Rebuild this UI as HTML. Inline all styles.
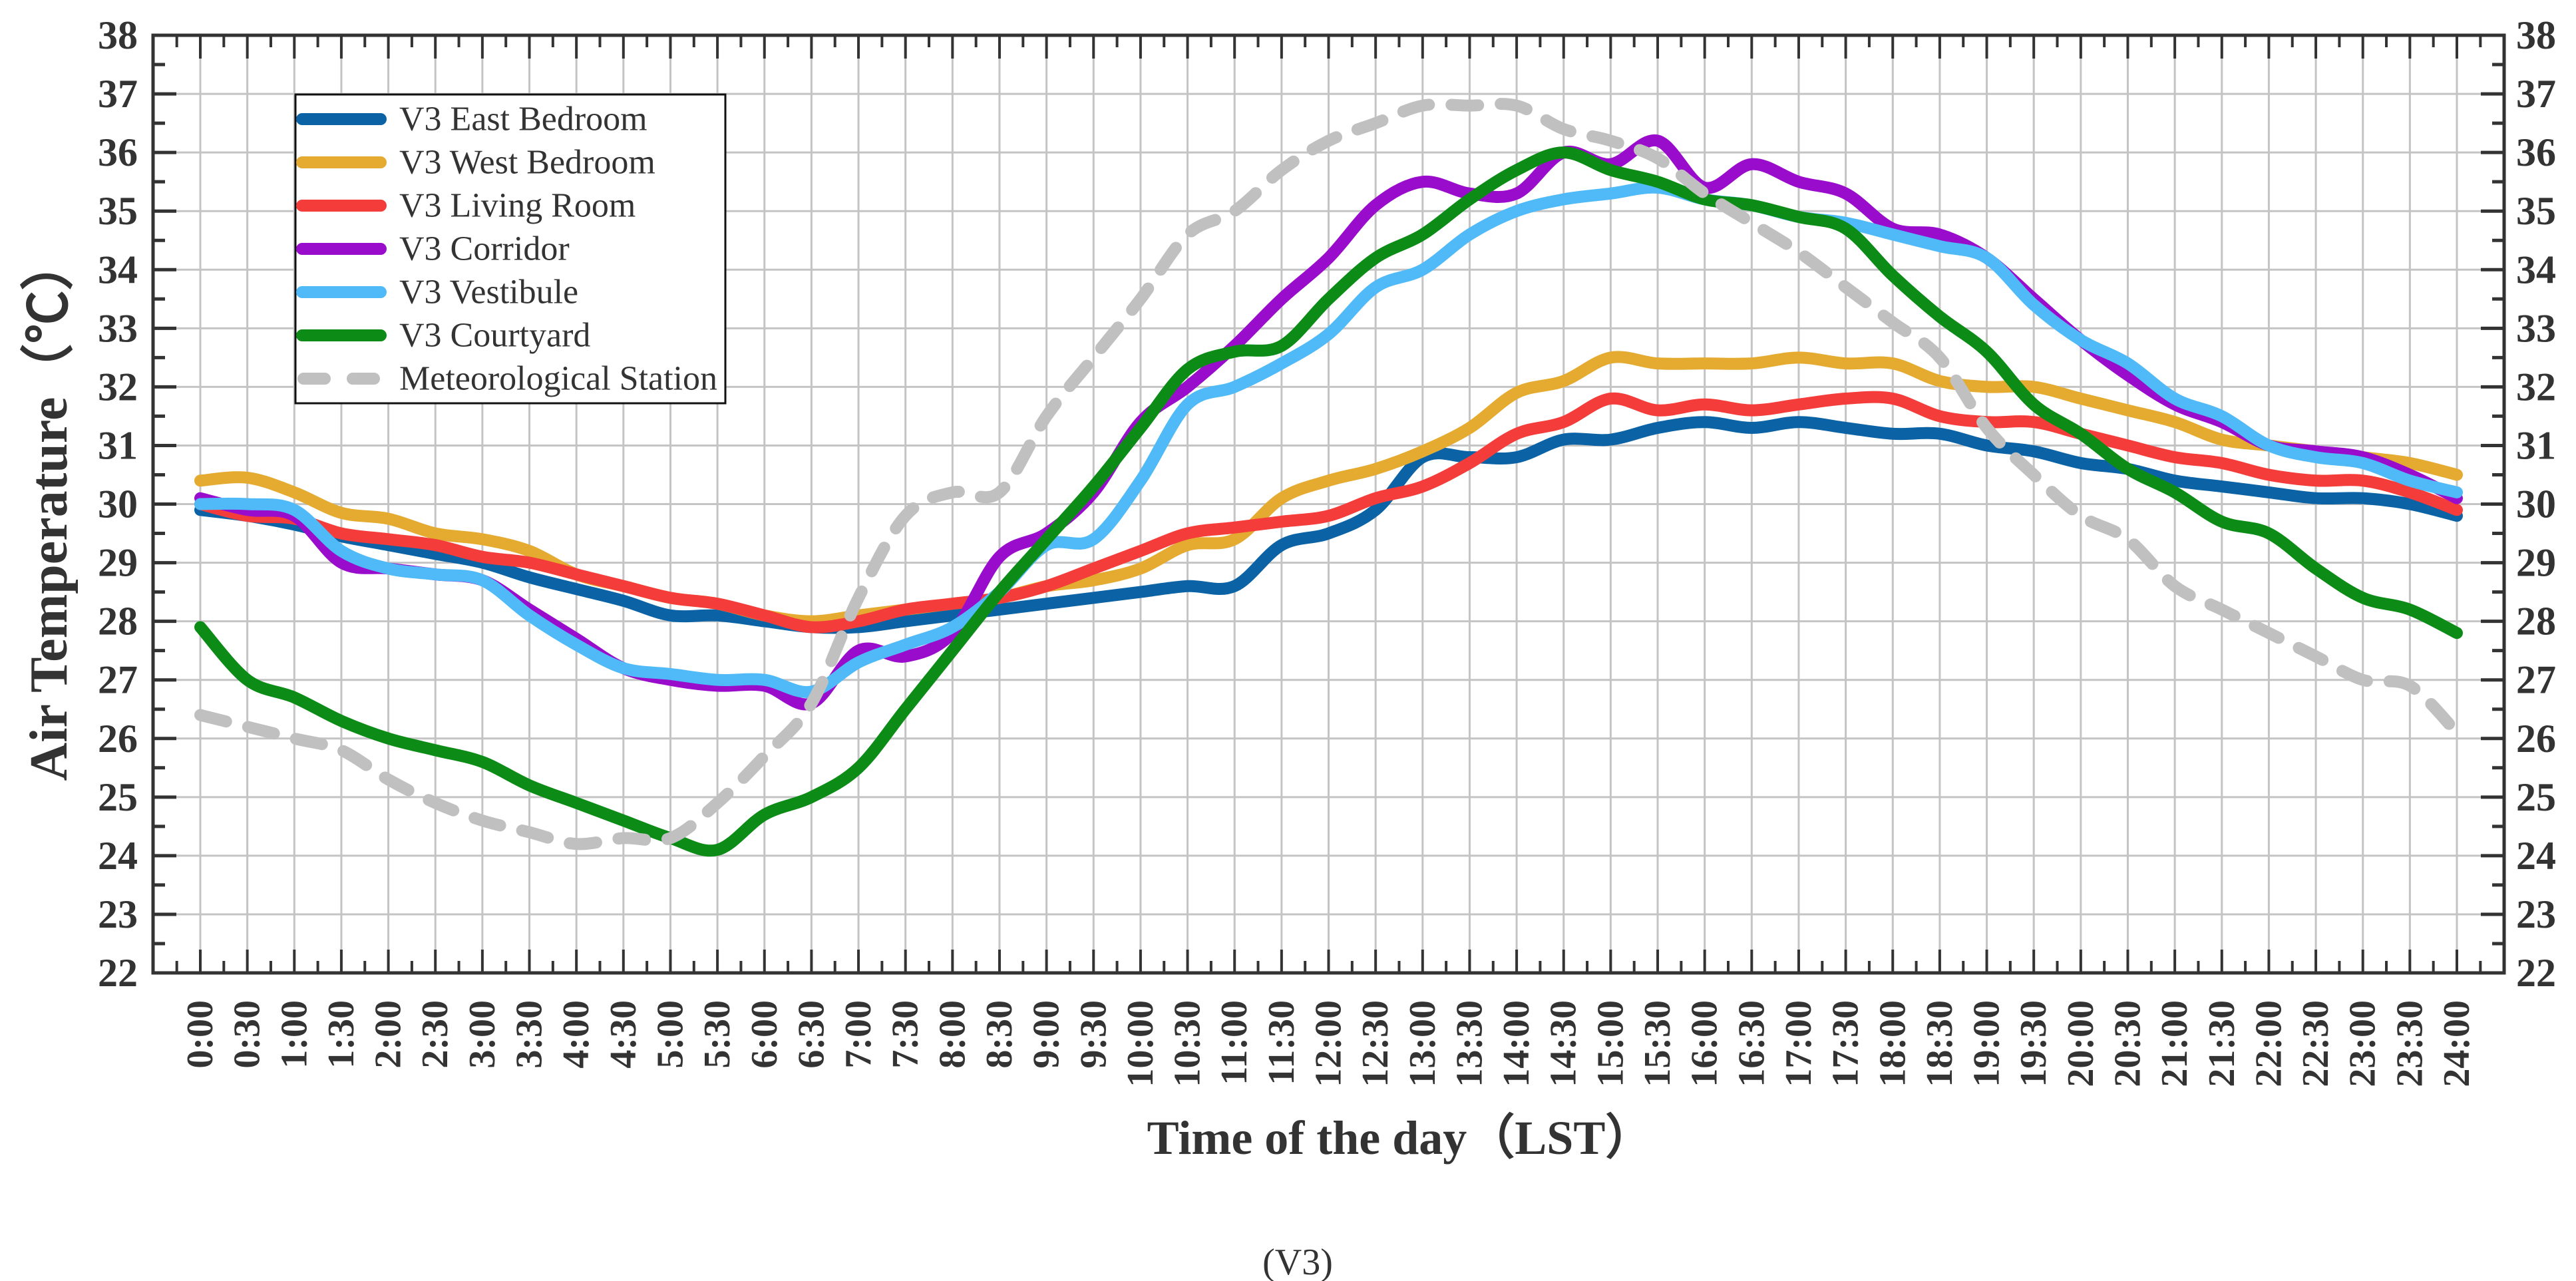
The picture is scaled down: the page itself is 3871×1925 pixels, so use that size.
<!DOCTYPE html>
<html><head><meta charset="utf-8"><style>
html,body{margin:0;padding:0;background:#fff;}
svg{display:block;}
text{font-family:"Liberation Serif","Times New Roman",serif;fill:#333;}
</style></head><body>
<svg id="chart" width="3871" height="1925" viewBox="0 0 3871 1925" xmlns="http://www.w3.org/2000/svg">
<g id="grid"></g>
<g id="series"></g>
<g id="axes"></g>
<text x="0" y="0" transform="translate(100,765) rotate(-90)" text-anchor="middle" font-size="80" font-weight="bold">Air Temperature（℃）</text>
<text x="2104" y="1734" text-anchor="middle" font-size="72" font-weight="bold">Time of the day（LST）</text>
<text x="1950" y="1915" text-anchor="middle" font-size="56">(V3)</text>
<g id="legend"></g>
</svg>
<script>
const timeLabels = ["0:00","0:30","1:00","1:30","2:00","2:30","3:00","3:30","4:00","4:30","5:00","5:30","6:00","6:30","7:00","7:30","8:00","8:30","9:00","9:30","10:00","10:30","11:00","11:30","12:00","12:30","13:00","13:30","14:00","14:30","15:00","15:30","16:00","16:30","17:00","17:30","18:00","18:30","19:00","19:30","20:00","20:30","21:00","21:30","22:00","22:30","23:00","23:30","24:00"];
const yTicks = [22,23,24,25,26,27,28,29,30,31,32,33,34,35,36,37,38];
const seriesNames = ["V3 East Bedroom","V3 West Bedroom","V3 Living Room","V3 Corridor","V3 Vestibule","V3 Courtyard","Meteorological Station"];
const eastBedroom = [29.9,29.8,29.65,29.45,29.3,29.15,29.0,28.75,28.55,28.35,28.1,28.1,28.0,27.9,27.9,28.0,28.1,28.2,28.3,28.4,28.5,28.6,28.6,29.3,29.5,29.9,30.8,30.8,30.8,31.1,31.1,31.3,31.4,31.3,31.4,31.3,31.2,31.2,31.0,30.9,30.7,30.6,30.4,30.3,30.2,30.1,30.1,30.0,29.8];
const westBedroom = [30.4,30.45,30.2,29.85,29.75,29.5,29.4,29.2,28.8,28.6,28.4,28.3,28.1,28.0,28.1,28.2,28.3,28.4,28.6,28.7,28.9,29.3,29.4,30.1,30.4,30.6,30.9,31.3,31.9,32.1,32.5,32.4,32.4,32.4,32.5,32.4,32.4,32.1,32.0,32.0,31.8,31.6,31.4,31.1,31.0,30.9,30.8,30.7,30.5];
const livingRoom = [30.0,29.8,29.75,29.5,29.4,29.3,29.1,29.0,28.8,28.6,28.4,28.3,28.1,27.9,28.0,28.2,28.3,28.4,28.6,28.9,29.2,29.5,29.6,29.7,29.8,30.1,30.3,30.7,31.2,31.4,31.8,31.6,31.7,31.6,31.7,31.8,31.8,31.5,31.4,31.4,31.2,31.0,30.8,30.7,30.5,30.4,30.4,30.2,29.9];
const corridor = [30.1,29.9,29.8,29.0,28.9,28.8,28.7,28.2,27.7,27.2,27.0,26.9,26.9,26.6,27.5,27.4,27.8,29.1,29.5,30.2,31.4,32.0,32.7,33.5,34.2,35.1,35.5,35.3,35.3,36.0,35.8,36.2,35.4,35.8,35.5,35.3,34.7,34.6,34.2,33.5,32.8,32.2,31.7,31.4,31.0,30.9,30.8,30.5,30.1];
const vestibule = [30.0,30.0,29.9,29.2,28.9,28.8,28.7,28.1,27.6,27.2,27.1,27.0,27.0,26.8,27.3,27.6,27.9,28.5,29.3,29.4,30.4,31.7,32.0,32.4,32.9,33.7,34.0,34.6,35.0,35.2,35.3,35.4,35.2,35.1,34.9,34.8,34.6,34.4,34.2,33.4,32.8,32.4,31.8,31.5,31.0,30.8,30.7,30.4,30.2];
const courtyard = [27.9,27.0,26.7,26.3,26.0,25.8,25.6,25.2,24.9,24.6,24.3,24.1,24.7,25.0,25.5,26.5,27.5,28.5,29.4,30.3,31.3,32.3,32.6,32.7,33.5,34.2,34.6,35.2,35.7,36.0,35.7,35.5,35.2,35.1,34.9,34.7,33.9,33.2,32.6,31.7,31.2,30.6,30.2,29.7,29.5,28.9,28.4,28.2,27.8];
const meteoStation = [26.4,26.2,26.0,25.8,25.3,24.9,24.6,24.4,24.2,24.3,24.3,24.9,25.7,26.6,28.4,29.8,30.2,30.2,31.5,32.5,33.5,34.6,35.0,35.7,36.2,36.5,36.8,36.8,36.8,36.4,36.2,35.9,35.3,34.8,34.3,33.7,33.1,32.5,31.3,30.5,29.8,29.4,28.6,28.2,27.8,27.4,27.0,26.9,26.1];

const NS = "http://www.w3.org/2000/svg";
const L = 230, R = 3763, T = 53, B = 1462;
const X0 = 301, X1 = 3692;
const yMin = 22, yMax = 38;
function xScale(i){ return X0 + (X1 - X0) * i / (timeLabels.length - 1); }
function yScale(v){ return B - (v - yMin) / (yMax - yMin) * (B - T); }
function mk(tag, attrs, parent){ const e = document.createElementNS(NS, tag); for (const k in attrs) e.setAttribute(k, attrs[k]); parent.appendChild(e); return e; }

const grid = document.getElementById('grid');
const axes = document.getElementById('axes');
const step = (X1 - X0) / (timeLabels.length - 1);

for (let i = 0; i < timeLabels.length; i++) {
  const x = xScale(i);
  const g = mk('line', {x1:x, x2:x, y1:T, y2:B, stroke:'#c4c4c4', 'stroke-width':3}, grid);
  
  
  const tb = mk('line', {x1:x, x2:x, y1:B, y2:B-35, stroke:'#333', 'stroke-width':4}, axes);
  
  
  const tt = mk('line', {x1:x, x2:x, y1:T, y2:T+35, stroke:'#333', 'stroke-width':4}, axes);
  
  
  const lab = mk('text', {transform:`translate(${x},1503) rotate(-90)`, 'text-anchor':'end', 'dominant-baseline':'central', 'font-size':56, 'font-weight':'bold'}, axes);
  lab.textContent = timeLabels[i];
  
  
}
for (let i = 0; i <= timeLabels.length; i++) {
  const x = X0 - step/2 + i*step;
  if (x <= L || x >= R) continue;
  const a = mk('line', {x1:x, x2:x, y1:B, y2:B-18, stroke:'#333', 'stroke-width':4}, axes);
  
  
  const b = mk('line', {x1:x, x2:x, y1:T, y2:T+18, stroke:'#333', 'stroke-width':4}, axes);
  
  
}
for (const v of yTicks) {
  const y = yScale(v);
  const g = mk('line', {x1:L, x2:R, y1:y, y2:y, stroke:'#c4c4c4', 'stroke-width':3}, grid);
  
  
  const tl = mk('line', {x1:L, x2:L+35, y1:y, y2:y, stroke:'#333', 'stroke-width':5}, axes);
  
  
  const tr = mk('line', {x1:R, x2:R-35, y1:y, y2:y, stroke:'#333', 'stroke-width':5}, axes);
  
  
  const ll = mk('text', {x:207, y:y, 'text-anchor':'end', 'dominant-baseline':'central', 'font-size':60, 'font-weight':'bold'}, axes);
  ll.textContent = v;
  
  
  const lr = mk('text', {x:3781, y:y, 'text-anchor':'start', 'dominant-baseline':'central', 'font-size':60, 'font-weight':'bold'}, axes);
  lr.textContent = v;
  
  
  if (v < yMax) {
    const ym = yScale(v + 0.5);
    const m1 = mk('line', {x1:L, x2:L+18, y1:ym, y2:ym, stroke:'#333', 'stroke-width':5}, axes);
    
    
    const m2 = mk('line', {x1:R, x2:R-18, y1:ym, y2:ym, stroke:'#333', 'stroke-width':5}, axes);
    
    
  }
}
const frame = mk('rect', {x:L, y:T, width:R-L, height:B-T, fill:'none', stroke:'#333', 'stroke-width':5}, axes);



function smoothPath(vals){
  const p = vals.map((v,i)=>[xScale(i), yScale(v)]);
  let d = `M${p[0][0]},${p[0][1]}`;
  for (let i = 0; i < p.length-1; i++) {
    const p0 = p[Math.max(0,i-1)], p1 = p[i], p2 = p[i+1], p3 = p[Math.min(p.length-1,i+2)];
    const c1 = [p1[0]+(p2[0]-p0[0])/6, p1[1]+(p2[1]-p0[1])/6];
    const c2 = [p2[0]-(p3[0]-p1[0])/6, p2[1]-(p3[1]-p1[1])/6];
    d += `C${c1[0]},${c1[1]} ${c2[0]},${c2[1]} ${p2[0]},${p2[1]}`;
  }
  return d;
}
const allSeries = [eastBedroom, westBedroom, livingRoom, corridor, vestibule, courtyard, meteoStation];
const colors = ['#0b63a6','#e5ab31','#f43d3a','#9a0ccb','#4fbaf7','#0c8c17','#c0c0c0'];
const slugs = ['east-bedroom-line','west-bedroom-line','living-room-line','corridor-line','vestibule-line','courtyard-line','meteorological-station-line'];
const sg = document.getElementById('series');
allSeries.forEach((vals, k) => {
  const attrs = {d:smoothPath(vals), fill:'none', stroke:colors[k], 'stroke-width':18, 'stroke-linecap':'round', 'stroke-linejoin':'round'};
  if (k === 6) attrs['stroke-dasharray'] = '40 34';
  const path = mk('path', attrs, sg);
  
  
});

const lg = document.getElementById('legend');
const box = mk('rect', {x:444, y:142, width:646, height:464, fill:'#fff', stroke:'#111', 'stroke-width':3}, lg);


seriesNames.forEach((name, k) => {
  const y = 179 + k*65;
  const attrs = {x1:454, x2:572, y1:y, y2:y, stroke:colors[k], 'stroke-width':18, 'stroke-linecap':'round'};
  if (k === 6) { attrs['stroke-dasharray'] = '32 42'; attrs.x1 = 456; }
  const ln = mk('line', attrs, lg);
  
  
  const t = mk('text', {x:600, y:y, 'dominant-baseline':'central', 'font-size':52}, lg);
  t.textContent = name;
  
  
});
</script>
</body></html>
